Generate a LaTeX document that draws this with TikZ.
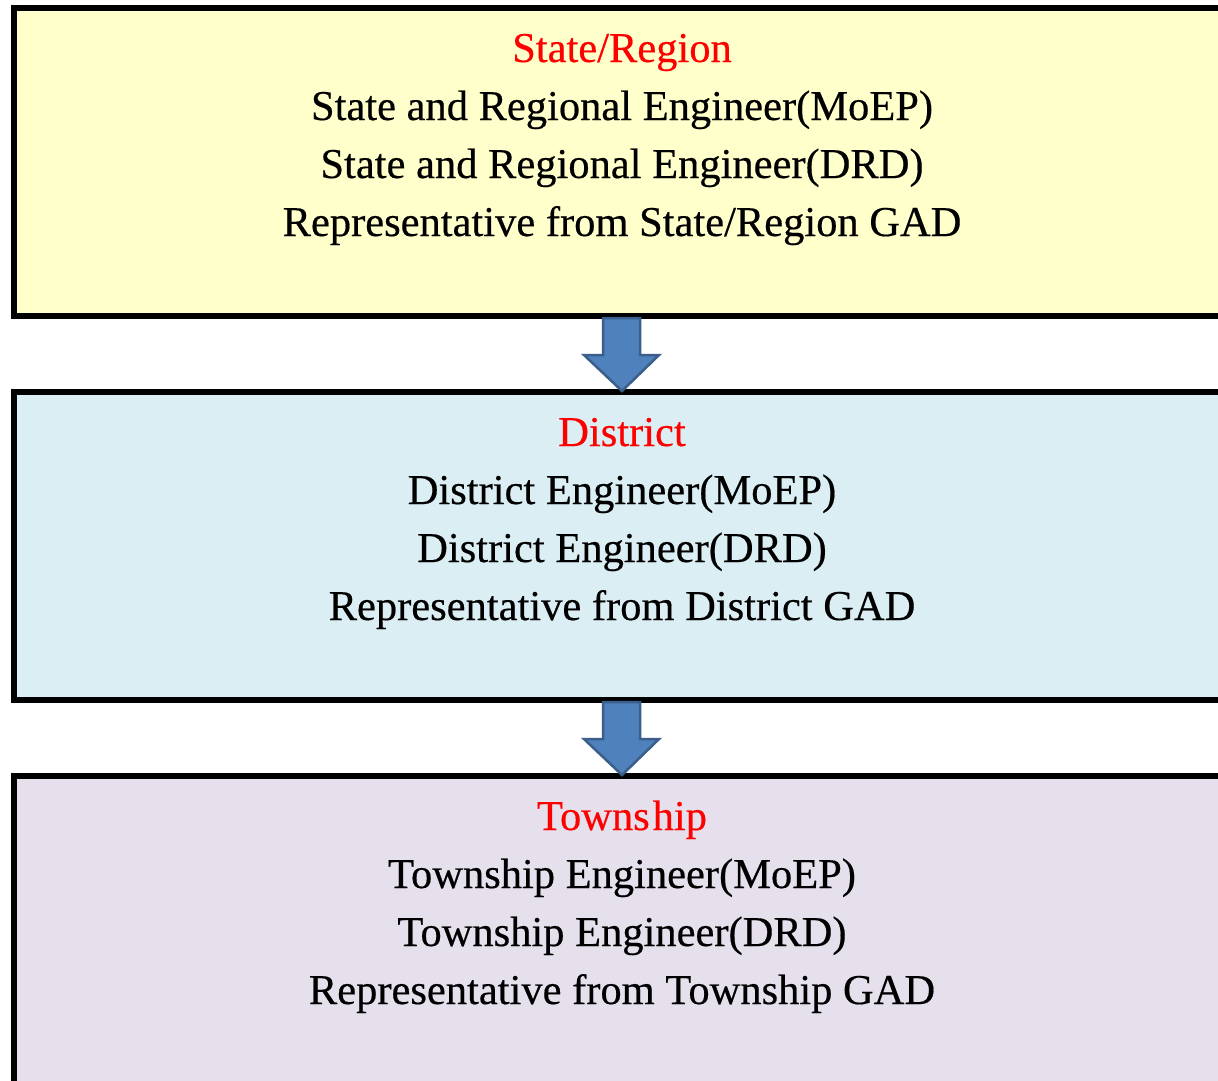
\documentclass[tikz,border=0pt]{standalone}
\usepackage{fontspec}
\setmainfont{Liberation Serif}[FakeBold=0.4]
\usetikzlibrary{calc}
\definecolor{boxA}{HTML}{FFFFCC}
\definecolor{boxB}{HTML}{DAEEF3}
\definecolor{boxC}{HTML}{E5E0EC}
\definecolor{arrfill}{HTML}{4F81BD}
\definecolor{arrdraw}{HTML}{3A5F8B}
\tikzset{
  levelbox/.style={draw=black, line width=6pt},
  ttl/.style={anchor=base, text=red, inner sep=0pt, font=\fontsize{42.5}{50}\selectfont},
  txt/.style={anchor=base, text=black, inner sep=0pt, font=\fontsize{42.5}{50}\selectfont},
  flowarrow/.style={fill=arrfill, draw=arrdraw, line width=2.5pt, line join=miter}
}
\begin{document}
\begin{tikzpicture}[x=1pt,y=-1pt]
\useasboundingbox (0,0) rectangle (1218,1080);
\fill[white] (0,0) rectangle (1218,1080);
\begin{scope}
\clip (0,0) rectangle (1218,1080);
\draw[levelbox, fill=boxA] (14,7.5) coordinate (b1nw) rectangle (1240,315.5) coordinate (b1se);
\draw[levelbox, fill=boxB] (14,391.5) coordinate (b2nw) rectangle (1240,700) coordinate (b2se);
\draw[levelbox, fill=boxC] (14,776) coordinate (b3nw) rectangle (1240,1100) coordinate (b3se);
\end{scope}
% arrows
\coordinate (a1top) at (622,318);
\coordinate (a1tip) at (622,391);
\coordinate (a2top) at (622,702);
\coordinate (a2tip) at (622,775);
\foreach \t/\p in {a1top/a1tip, a2top/a2tip}{
  \draw[flowarrow] ($(\t)+(-19,0)$) -- ($(\t)+(18,0)$) -- ($(\p)+(18,-36)$) -- ($(\p)+(37,-36)$)
     -- (\p) -- ($(\p)+(-38,-36)$) -- ($(\p)+(-19,-36)$) -- cycle;
}
% texts
\node[ttl] (t1) at (622,62) {State/Region};
\node[txt] (t1a) at (622,120) {State and Regional Engineer(MoEP)};
\node[txt] (t1b) at (622,178) {State and Regional Engineer(DRD)};
\node[txt] (t1c) at (622,236) {Representative from State/Region GAD};
\node[ttl] (t2) at (622,446) {District};
\node[txt] (t2a) at (622,504) {District Engineer(MoEP)};
\node[txt] (t2b) at (622,562) {District Engineer(DRD)};
\node[txt] (t2c) at (622,620) {Representative from District GAD};
\node[ttl] (t3) at (622,830) {Towns\kern3pt hip};
\node[txt] (t3a) at (622,888) {Township Engineer(MoEP)};
\node[txt] (t3b) at (622,946) {Township Engineer(DRD)};
\node[txt] (t3c) at (622,1004) {Representative from Township GAD};
\end{tikzpicture}
\end{document}
